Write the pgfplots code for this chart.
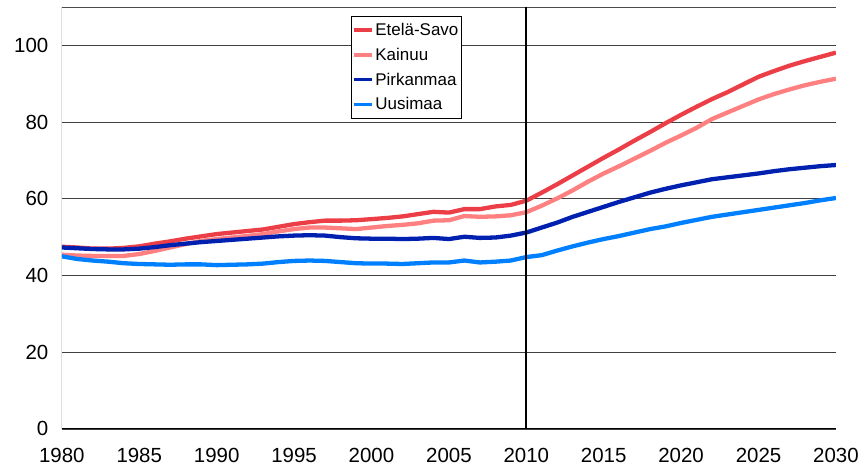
\documentclass[border=0pt]{standalone}
\usepackage{pgfplots}
\pgfplotsset{compat=1.18}
\usepackage{fontspec}
\setmainfont{Liberation Sans}

\definecolor{esavo}{RGB}{236,62,70}
\definecolor{kainuu}{RGB}{255,128,128}
\definecolor{pirkan}{RGB}{0,32,176}
\definecolor{uusi}{RGB}{0,128,255}

\begin{document}
\begin{tikzpicture}[x=1pt,y=1pt]
\begin{axis}[
  scale only axis,
  width=776pt, height=423pt,
  xmin=1980, xmax=2030,
  ymin=0, ymax=110,
  xtick={1980,1985,...,2030},
  ytick={0,20,...,100},
  /pgf/number format/1000 sep={},
  /pgf/number format/assume math mode=true,
  tick style={draw=none},
  ticklabel style={font=\fontsize{20.5}{24}\selectfont},
  every x tick label/.append style={yshift=-16pt},
  every y tick label/.append style={xshift=-10pt},
  ymajorgrids,
  grid style={black!75, line width=0.8pt},
  axis line style={draw=none},
  legend style={at={(0.373,0.979)}, anchor=north west, draw=black, line width=0.8pt,
    font=\fontsize{17}{20}\selectfont, row sep=7pt, inner xsep=1pt, inner ysep=5pt,
    legend cell align=left},
  legend image code/.code={\draw[#1, line width=3.5pt] (0pt,0pt) -- (18pt,0pt);},
  every axis plot/.append style={line width=4.3pt, line join=round, mark=none},
]
\draw[black, line width=1pt] (axis cs:1980,110) -- (axis cs:1980,0) -- (axis cs:2030,0);
\draw[black!70, line width=0.8pt] (axis cs:1980,110) -- (axis cs:2030,110) -- (axis cs:2030,0);

\addplot[esavo] coordinates {
(1980,47.5)(1981,47.3)(1982,47.0)(1983,47.0)(1984,47.2)(1985,47.6)(1986,48.3)(1987,48.9)(1988,49.6)(1989,50.2)
(1990,50.8)(1991,51.2)(1992,51.6)(1993,52.0)(1994,52.7)(1995,53.4)(1996,53.9)(1997,54.3)(1998,54.3)(1999,54.4)
(2000,54.7)(2001,55.0)(2002,55.4)(2003,56.0)(2004,56.6)(2005,56.4)(2006,57.3)(2007,57.3)(2008,58.0)(2009,58.4)
(2010,59.5)(2011,61.6)(2012,63.8)(2013,66.1)(2014,68.4)(2015,70.7)(2016,72.9)(2017,75.2)(2018,77.4)(2019,79.7)
(2020,81.9)(2021,84.0)(2022,86.0)(2023,87.8)(2024,89.8)(2025,91.8)(2026,93.3)(2027,94.7)(2028,95.9)(2029,97.0)
(2030,98.1)};
\addlegendentry{Etelä-Savo}

\addplot[kainuu] coordinates {
(1980,45.4)(1981,45.2)(1982,45.1)(1983,45.1)(1984,45.1)(1985,45.6)(1986,46.4)(1987,47.3)(1988,48.2)(1989,49.0)
(1990,49.5)(1991,49.9)(1992,50.3)(1993,50.8)(1994,51.5)(1995,52.1)(1996,52.5)(1997,52.5)(1998,52.3)(1999,52.1)
(2000,52.5)(2001,52.9)(2002,53.2)(2003,53.6)(2004,54.3)(2005,54.4)(2006,55.5)(2007,55.3)(2008,55.4)(2009,55.7)
(2010,56.5)(2011,58.2)(2012,60.1)(2013,62.2)(2014,64.5)(2015,66.6)(2016,68.5)(2017,70.5)(2018,72.5)(2019,74.6)
(2020,76.5)(2021,78.5)(2022,80.8)(2023,82.5)(2024,84.2)(2025,85.9)(2026,87.3)(2027,88.5)(2028,89.6)(2029,90.5)
(2030,91.3)};
\addlegendentry{Kainuu}

\addplot[pirkan] coordinates {
(1980,47.3)(1981,47.1)(1982,46.9)(1983,46.8)(1984,46.8)(1985,47.0)(1986,47.4)(1987,47.9)(1988,48.3)(1989,48.7)
(1990,49.0)(1991,49.3)(1992,49.6)(1993,49.9)(1994,50.2)(1995,50.4)(1996,50.5)(1997,50.4)(1998,50.0)(1999,49.7)
(2000,49.6)(2001,49.6)(2002,49.5)(2003,49.6)(2004,49.8)(2005,49.5)(2006,50.1)(2007,49.8)(2008,49.9)(2009,50.4)
(2010,51.2)(2011,52.5)(2012,53.8)(2013,55.3)(2014,56.6)(2015,57.9)(2016,59.2)(2017,60.4)(2018,61.6)(2019,62.6)
(2020,63.5)(2021,64.3)(2022,65.1)(2023,65.6)(2024,66.1)(2025,66.6)(2026,67.2)(2027,67.7)(2028,68.1)(2029,68.5)
(2030,68.8)};
\addlegendentry{Pirkanmaa}

\addplot[uusi] coordinates {
(1980,45.0)(1981,44.3)(1982,43.9)(1983,43.6)(1984,43.2)(1985,43.0)(1986,42.9)(1987,42.8)(1988,42.9)(1989,42.9)
(1990,42.7)(1991,42.8)(1992,42.9)(1993,43.1)(1994,43.5)(1995,43.8)(1996,43.9)(1997,43.8)(1998,43.5)(1999,43.2)
(2000,43.1)(2001,43.1)(2002,43.0)(2003,43.2)(2004,43.4)(2005,43.4)(2006,43.9)(2007,43.4)(2008,43.6)(2009,43.9)
(2010,44.8)(2011,45.3)(2012,46.5)(2013,47.6)(2014,48.6)(2015,49.5)(2016,50.3)(2017,51.2)(2018,52.1)(2019,52.8)
(2020,53.7)(2021,54.5)(2022,55.3)(2023,55.9)(2024,56.5)(2025,57.1)(2026,57.7)(2027,58.3)(2028,58.9)(2029,59.6)
(2030,60.2)};
\addlegendentry{Uusimaa}

\draw[black, line width=1.8pt] (axis cs:2010,0) -- (axis cs:2010,110);
\end{axis}
\path (current axis.south west) ++(-62pt,-37pt) rectangle ++(862pt,467pt);
\end{tikzpicture}
\end{document}
